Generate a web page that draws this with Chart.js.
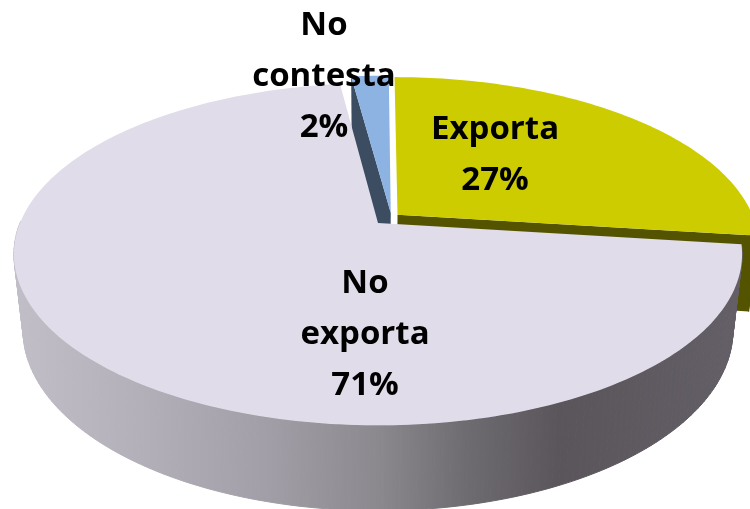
<!DOCTYPE html>
<html>
<head>
<meta charset="utf-8">
<script src="https://cdn.jsdelivr.net/npm/chart.js@4"></script>
<style>
  html, body { margin: 0; padding: 0; background: #fff; overflow: hidden; }
  canvas { display: block; }
</style>
</head>
<body>
<canvas id="exportChart" width="750" height="509"></canvas>
<script>
const categories = ['Exporta', 'No exporta', 'No contesta'];
const percentages = [27, 71, 2];
const topColors = ['#CCCC00', '#E1DCE9', '#8DB3E2'];
const sideColors = ['#545400', null, '#3C4D62'];

// how far each slice is pulled out of the pie, as a fraction of the radius
const slicePull = [[0.055, -0.05], [0, 0], [0.036, -0.063]];
// centre of each slice's text, in pixels
const labelCentres = [[495, 130], [365, 284], [324, 26]];
const lineHeight = 51;

// projection of the flat pie onto the tilted view
const view = { x: 378, y: 223, a: 358, b: 165.5, k: 0.182, depth: 77, shrink: 0.025 };

function project(u, v, z) {
    const w = 1 - view.k * v + view.shrink * z;
    return [view.x + view.a * u / w, view.y + (view.b * v + view.depth * z) / w];
}

// rim points of a slice, angles come from the library's arc element
function rim(arc, pull, z) {
    const pts = [];
    const steps = Math.max(2, Math.ceil((arc.endAngle - arc.startAngle) / 0.02));
    for (let i = 0; i <= steps; i++) {
        const t = arc.startAngle + (arc.endAngle - arc.startAngle) * i / steps;
        pts.push(project(Math.cos(t) + pull[0], Math.sin(t) + pull[1], z));
    }
    return pts;
}

function fillPoly(ctx, pts, style, seam) {
    ctx.beginPath();
    pts.forEach((p, i) => i ? ctx.lineTo(p[0], p[1]) : ctx.moveTo(p[0], p[1]));
    ctx.closePath();
    ctx.fillStyle = style;
    ctx.fill();
    if (seam) {
        ctx.strokeStyle = style;
        ctx.lineWidth = 1;
        ctx.stroke();
    }
}

function drawWall(ctx, arc, pull, style) {
    const top = rim(arc, pull, 0);
    const bottom = rim(arc, pull, 1);
    for (let i = 0; i < top.length - 1; i++) {
        // the back of the wall is hidden behind the top face
        if (top[i][1] < view.y + pull[1] * view.b && top[i + 1][1] < view.y + pull[1] * view.b) continue;
        fillPoly(ctx, [top[i], top[i + 1], bottom[i + 1], bottom[i]], style, true);
    }
}

// only one cut face of each pulled slice can be seen from this side
function drawCutFace(ctx, arc, pull, style, atEnd) {
    const top = rim(arc, pull, 0);
    const bottom = rim(arc, pull, 1);
    const edge = atEnd ? top.length - 1 : 0;
    const apexTop = project(pull[0], pull[1], 0);
    const apexBottom = project(pull[0], pull[1], 1);
    fillPoly(ctx, [apexTop, top[edge], bottom[edge], apexBottom], style, false);
}

function drawTop(ctx, arc, pull, style) {
    fillPoly(ctx, [project(pull[0], pull[1], 0), ...rim(arc, pull, 0)], style, false);
}

const pie3dPlugin = {
    id: 'pie3dPlugin',
    beforeDatasetsDraw: (chart) => {
        const ctx = chart.ctx;
        const arcs = chart.getDatasetMeta(0).data;
        const wallGradient = ctx.createLinearGradient(14, 0, 742, 0);
        wallGradient.addColorStop(0, '#C2BEC8');
        wallGradient.addColorStop(0.17, '#B4B0BA');
        wallGradient.addColorStop(0.35, '#A19EA7');
        wallGradient.addColorStop(0.5, '#8B888E');
        wallGradient.addColorStop(0.62, '#6F6C71');
        wallGradient.addColorStop(0.75, '#59555A');
        wallGradient.addColorStop(1, '#645F67');

        ctx.save();
        // pulled-out slices first, the big slice sits in front of them
        [2, 0].forEach((i) => {
            drawCutFace(ctx, arcs[i], slicePull[i], sideColors[i], i === 0);
            drawWall(ctx, arcs[i], slicePull[i], sideColors[i]);
            drawTop(ctx, arcs[i], slicePull[i], topColors[i]);
        });
        drawWall(ctx, arcs[1], slicePull[1], wallGradient);
        drawTop(ctx, arcs[1], slicePull[1], topColors[1]);
        ctx.restore();
        return false;
    },
    afterDraw: (chart) => {
        const ctx = chart.ctx;
        ctx.save();
        ctx.font = 'bold 33px "Open Sans"';
        ctx.textAlign = 'center';
        ctx.textBaseline = 'middle';
        ctx.fillStyle = '#000';
        ctx.filter = 'blur(0.5px)';
        categories.forEach((name, i) => {
            const lines = name.startsWith('No ') ? name.split(' ') : [name];
            lines.push(percentages[i] + '%');
            lines.forEach((line, n) => {
                ctx.fillText(line, labelCentres[i][0], labelCentres[i][1] + n * lineHeight);
            });
        });
        ctx.restore();
    }
};

document.fonts.load('bold 33px "Open Sans"').finally(() => {
    new Chart(document.getElementById('exportChart').getContext('2d'), {
        type: 'pie',
        data: {
            labels: categories,
            datasets: [{ data: percentages, backgroundColor: topColors, borderWidth: 0 }]
        },
        options: {
            responsive: false,
            animation: false,
            plugins: { legend: { display: false }, tooltip: { enabled: false } }
        },
        plugins: [pie3dPlugin]
    });
});
</script>
</body>
</html>
